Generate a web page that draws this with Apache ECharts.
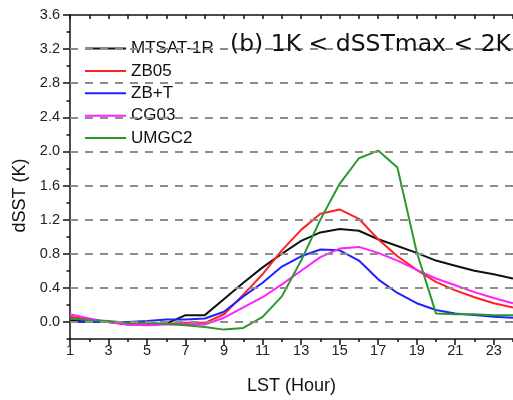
<!DOCTYPE html>
<html>
<head>
<meta charset="utf-8">
<script src="https://cdn.jsdelivr.net/npm/echarts@6/dist/echarts.min.js"></script>
<style>html,body{margin:0;padding:0;background:#fff;}#chart{width:513px;height:400px;}</style>
</head>
<body>
<div id="chart"></div>
<script>
// ---- data ----
const hours = [1,2,3,4,5,6,7,8,9,10,11,12,13,14,15,16,17,18,19,20,21,22,23,24];
const mtsat = [0.02,0.01,0.00,-0.03,-0.03,-0.02,0.08,0.08,0.27,0.46,0.64,0.80,0.95,1.05,1.09,1.07,0.97,0.89,0.81,0.72,0.66,0.60,0.56,0.51];
const zb05  = [0.06,0.03,0.00,-0.02,-0.03,-0.02,-0.01,-0.01,0.09,0.32,0.56,0.84,1.08,1.27,1.32,1.21,0.97,0.77,0.61,0.47,0.37,0.29,0.22,0.17];
const zbt   = [0.00,0.00,0.00,0.00,0.01,0.03,0.03,0.04,0.12,0.30,0.46,0.65,0.77,0.85,0.84,0.72,0.50,0.34,0.22,0.14,0.10,0.08,0.06,0.05];
const cg03  = [0.09,0.04,0.00,-0.03,-0.04,-0.03,-0.03,-0.03,0.05,0.17,0.29,0.44,0.60,0.76,0.86,0.88,0.81,0.72,0.61,0.51,0.43,0.35,0.28,0.22];
const umgc2 = [0.04,0.02,0.01,-0.01,-0.01,-0.02,-0.04,-0.06,-0.09,-0.07,0.06,0.30,0.72,1.20,1.62,1.92,2.01,1.81,0.82,0.10,0.09,0.09,0.08,0.08];
const seriesNames = ['MTSAT-1R','ZB05','ZB+T','CG03','UMGC2'];
const seriesColors = ['#111111','#ff2222','#2222ff','#ff22ff','#2a982a'];
const seriesValues = [mtsat, zb05, zbt, cg03, umgc2];
const yMajorTicks = [0,0.4,0.8,1.2,1.6,2.0,2.4,2.8,3.2,3.6];
const gridLineValues = [0,0.4,0.8,1.2,1.6,2.0,2.4,2.8,3.2];
const titleText = '(b) 1K < dSSTmax < 2K';

const chart = echarts.init(document.getElementById('chart'), null, {renderer:'canvas'});
const labelFont = 'Liberation Sans';
const axisCol = '#111';

const lineSeries = seriesNames.map((n,i)=>({
  name: n, type:'line', xAxisIndex:0, yAxisIndex:0,
  data: hours.map((h,k)=>[h, seriesValues[i][k]]),
  symbol:'none', smooth:false, z:3,
  color: seriesColors[i],
  lineStyle:{color: seriesColors[i], width:2},
  itemStyle:{color: seriesColors[i]}
}));

const option = {
  animation:false,
  backgroundColor:'#fff',
  title:{
    text: titleText, left:230, top:33, padding:0,
    textStyle:{fontFamily:'DejaVu Sans', fontSize:23.5, fontWeight:'normal', color:'#111'}
  },
  legend:{
    data: seriesNames, orient:'vertical', left:85, top:40, padding:0,
    itemWidth:41, itemHeight:2, itemGap:5.4, icon:'rect',
    textStyle:{fontFamily:labelFont, fontSize:17, color:'#111', lineHeight:16}
  },
  grid:{left:70, right:-4, top:15, bottom:57.6, containLabel:false},
  xAxis:[
    {type:'value', position:'bottom', min:1, max:24, interval:2,
     axisLine:{show:true, onZero:false, lineStyle:{color:axisCol, width:1.5}},
     axisTick:{show:true, inside:false, length:6, lineStyle:{color:axisCol, width:1.5}},
     axisLabel:{show:true, margin:4, fontFamily:labelFont, fontSize:14.5, color:'#222',
       showMaxLabel:false, formatter:v=> (v%2===1 ? String(v) : '')},
     splitLine:{show:false},
     name:'LST (Hour)', nameLocation:'middle', nameGap:38,
     nameTextStyle:{fontFamily:labelFont, fontSize:18, color:'#111'}},
    {type:'value', position:'bottom', min:1, max:24, interval:1,
     axisLine:{show:false, onZero:false},
     axisTick:{show:true, inside:false, length:3, lineStyle:{color:axisCol, width:1.5}},
     axisLabel:{show:false}, splitLine:{show:false}},
    {type:'value', position:'top', min:1, max:24, interval:1,
     axisLine:{show:true, onZero:false, lineStyle:{color:axisCol, width:1.5}},
     axisTick:{show:true, inside:true, length:4, lineStyle:{color:axisCol, width:1.5}},
     axisLabel:{show:false}, splitLine:{show:false}}
  ],
  yAxis:[
    {type:'value', position:'left', min:-0.2, max:3.6, interval:0.2,
     axisLine:{show:true, onZero:false, lineStyle:{color:axisCol, width:1.5}},
     axisTick:{show:true, inside:false, length:3.5, lineStyle:{color:axisCol, width:1.5}},
     axisLabel:{show:true, margin:10, fontFamily:labelFont, fontSize:14.5, color:'#222',
       formatter:v=>{ const r=v/0.4; return (Math.abs(r-Math.round(r))<1e-6 && v>-0.01) ? v.toFixed(1) : ''; }},
     splitLine:{show:false},
     name:'dSST (K)', nameLocation:'middle', nameGap:40,
     nameTextStyle:{fontFamily:labelFont, fontSize:18, color:'#111', padding:[0,37,0,0]}},
    {type:'value', position:'left', min:-0.2, max:3.6, interval:0.2,
     axisLine:{show:false, onZero:false},
     axisTick:{show:true, inside:false, length:7, customValues:yMajorTicks, lineStyle:{color:axisCol, width:1.5}},
     axisLabel:{show:false}, splitLine:{show:false}}
  ],
  series:[
    {type:'line', xAxisIndex:0, yAxisIndex:0, data:[], z:1, silent:true,
     markLine:{silent:true, symbol:['none','none'], label:{show:false}, animation:false,
       lineStyle:{type:[8,7], color:'#8c8c8c', width:2},
       emphasis:{disabled:true},
       data: gridLineValues.map(v=>({yAxis:v}))}}
  ].concat(lineSeries)
};
chart.setOption(option);
</script>
</body>
</html>
